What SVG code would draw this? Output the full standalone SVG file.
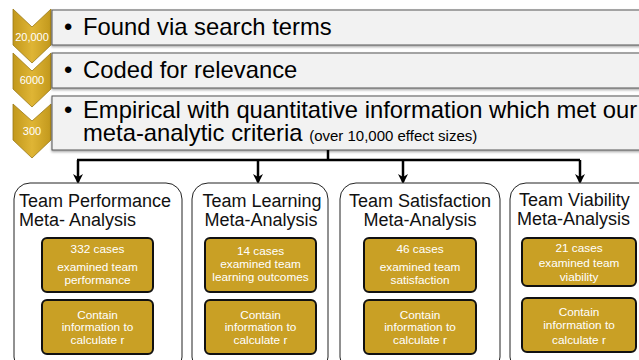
<svg xmlns="http://www.w3.org/2000/svg" width="639" height="360" viewBox="0 0 639 360">
<defs>
<linearGradient id="gold" x1="0" y1="0" x2="1" y2="0">
<stop offset="0" stop-color="#c2981c"/>
<stop offset="0.5" stop-color="#dfb535"/>
<stop offset="1" stop-color="#c2981c"/>
</linearGradient>
<marker id="arr" viewBox="0 0 10 10" refX="8" refY="5" markerWidth="4" markerHeight="4" orient="auto" markerUnits="strokeWidth">
<path d="M0,0 L10,5 L0,10 L3,5 z" fill="#000"/>
</marker>
<filter id="sh" x="-5%" y="-20%" width="110%" height="150%">
<feDropShadow dx="0" dy="1.5" stdDeviation="1" flood-color="#000" flood-opacity="0.35"/>
</filter>
</defs>
<style>
.chev{fill:url(#gold);stroke:#9a7a18;stroke-width:0.8}
.num{font-family:"Liberation Sans",Arial,sans-serif;font-size:11px;fill:#fff;text-anchor:middle}
.step{fill:#f2f2f2;stroke:#555;stroke-width:1}
.big{font-family:"Liberation Sans",Arial,sans-serif;font-size:23.8px;fill:#000}
.small{font-size:15px}
.outer{fill:#fff;stroke:#222;stroke-width:1}
.title{font-family:"Liberation Sans",Arial,sans-serif;font-size:18px;fill:#111;text-anchor:middle}
.ts{text-anchor:start}
.inner{fill:#c9a025;stroke:#111;stroke-width:2}
.it{font-family:"Liberation Sans",Arial,sans-serif;font-size:11.8px;fill:#fff;text-anchor:middle}
.conn{fill:none;stroke:#000;stroke-width:2.5}
</style>

<g id="step1">
<path class="chev" d="M13,9 L32,27 L51,9 L51,45 L32,63 L13,45 Z"/>
<text class="num" x="32" y="41">20,000</text>
<rect class="step" x="52" y="10" width="600" height="35" filter="url(#sh)"/>
<text class="big" x="64" y="35">•</text>
<text class="big" x="83" y="35">Found via search terms</text>
</g>

<g id="step2">
<path class="chev" d="M13,53 L32,71 L51,53 L51,89 L32,107 L13,89 Z"/>
<text class="num" x="32" y="84">6000</text>
<rect class="step" x="52" y="53" width="600" height="35" filter="url(#sh)"/>
<text class="big" x="64" y="78">•</text>
<text class="big" x="83" y="78">Coded for relevance</text>
</g>

<g id="step3">
<path class="chev" d="M13,104 L32,121 L51,104 L51,140 L32,158 L13,140 Z"/>
<text class="num" x="32" y="135">300</text>
<rect class="step" x="52" y="96" width="600" height="54" filter="url(#sh)"/>
<text class="big" x="64" y="118">•</text>
<text class="big" x="83" y="118">Empirical with quantitative information which met our</text>
<text class="big" x="83" y="141">meta-analytic criteria <tspan class="small">(over 10,000 effect sizes)</tspan></text>
</g>

<g id="connectors">
<path class="conn" d="M328,150 L328,160"/>
<path class="conn" d="M77,160 L580,160"/>
<path class="conn" d="M78,160 L78,182" marker-end="url(#arr)"/>
<path class="conn" d="M258,160 L258,182" marker-end="url(#arr)"/>
<path class="conn" d="M403,160 L403,182" marker-end="url(#arr)"/>
<path class="conn" d="M580,160 L580,182" marker-end="url(#arr)"/>
</g>

<g id="performance">
<rect class="outer" x="14" y="183" width="168" height="190" rx="16"/>
<text class="title ts" x="19" y="207">Team Performance</text>
<text class="title ts" x="19" y="226">Meta- Analysis</text>
<rect class="inner" x="42" y="238" width="111" height="54" rx="5"/>
<text class="it" x="97.5" y="253">332 cases</text>
<text class="it" x="97.5" y="271">examined team</text>
<text class="it" x="97.5" y="284">performance</text>
<rect class="inner" x="42" y="300" width="111" height="54" rx="5"/>
<text class="it" x="97.5" y="319">Contain</text>
<text class="it" x="97.5" y="331">information to</text>
<text class="it" x="97.5" y="344">calculate r</text>
</g>

<g id="learning">
<rect class="outer" x="192" y="183" width="136" height="190" rx="16"/>
<text class="title" x="262" y="207">Team Learning</text>
<text class="title" x="261" y="226">Meta-Analysis</text>
<rect class="inner" x="205" y="238" width="111" height="54" rx="5"/>
<text class="it" x="260.5" y="255">14 cases</text>
<text class="it" x="260.5" y="268">examined team</text>
<text class="it" x="260.5" y="281">learning outcomes</text>
<rect class="inner" x="205" y="300" width="111" height="54" rx="5"/>
<text class="it" x="260.5" y="319">Contain</text>
<text class="it" x="260.5" y="331">information to</text>
<text class="it" x="260.5" y="344">calculate r</text>
</g>

<g id="satisfaction">
<rect class="outer" x="340" y="183" width="160" height="190" rx="16"/>
<text class="title" x="420" y="207">Team Satisfaction</text>
<text class="title" x="420" y="226">Meta-Analysis</text>
<rect class="inner" x="364" y="238" width="112" height="54" rx="5"/>
<text class="it" x="420" y="253">46 cases</text>
<text class="it" x="420" y="271">examined team</text>
<text class="it" x="420" y="284">satisfaction</text>
<rect class="inner" x="364" y="300" width="112" height="54" rx="5"/>
<text class="it" x="420" y="319">Contain</text>
<text class="it" x="420" y="331">information to</text>
<text class="it" x="420" y="344">calculate r</text>
</g>

<g id="viability">
<rect class="outer" x="510" y="183" width="160" height="190" rx="16"/>
<text class="title ts" x="519" y="206">Team Viability</text>
<text class="title ts" x="517" y="225">Meta-Analysis</text>
<rect class="inner" x="522" y="238" width="114" height="48" rx="5"/>
<text class="it" x="579" y="252">21 cases</text>
<text class="it" x="579" y="267">examined team</text>
<text class="it" x="579" y="281">viability</text>
<rect class="inner" x="522" y="298" width="114" height="54" rx="5"/>
<text class="it" x="579" y="316">Contain</text>
<text class="it" x="579" y="329">information to</text>
<text class="it" x="579" y="344">calculate r</text>
</g>
</svg>
